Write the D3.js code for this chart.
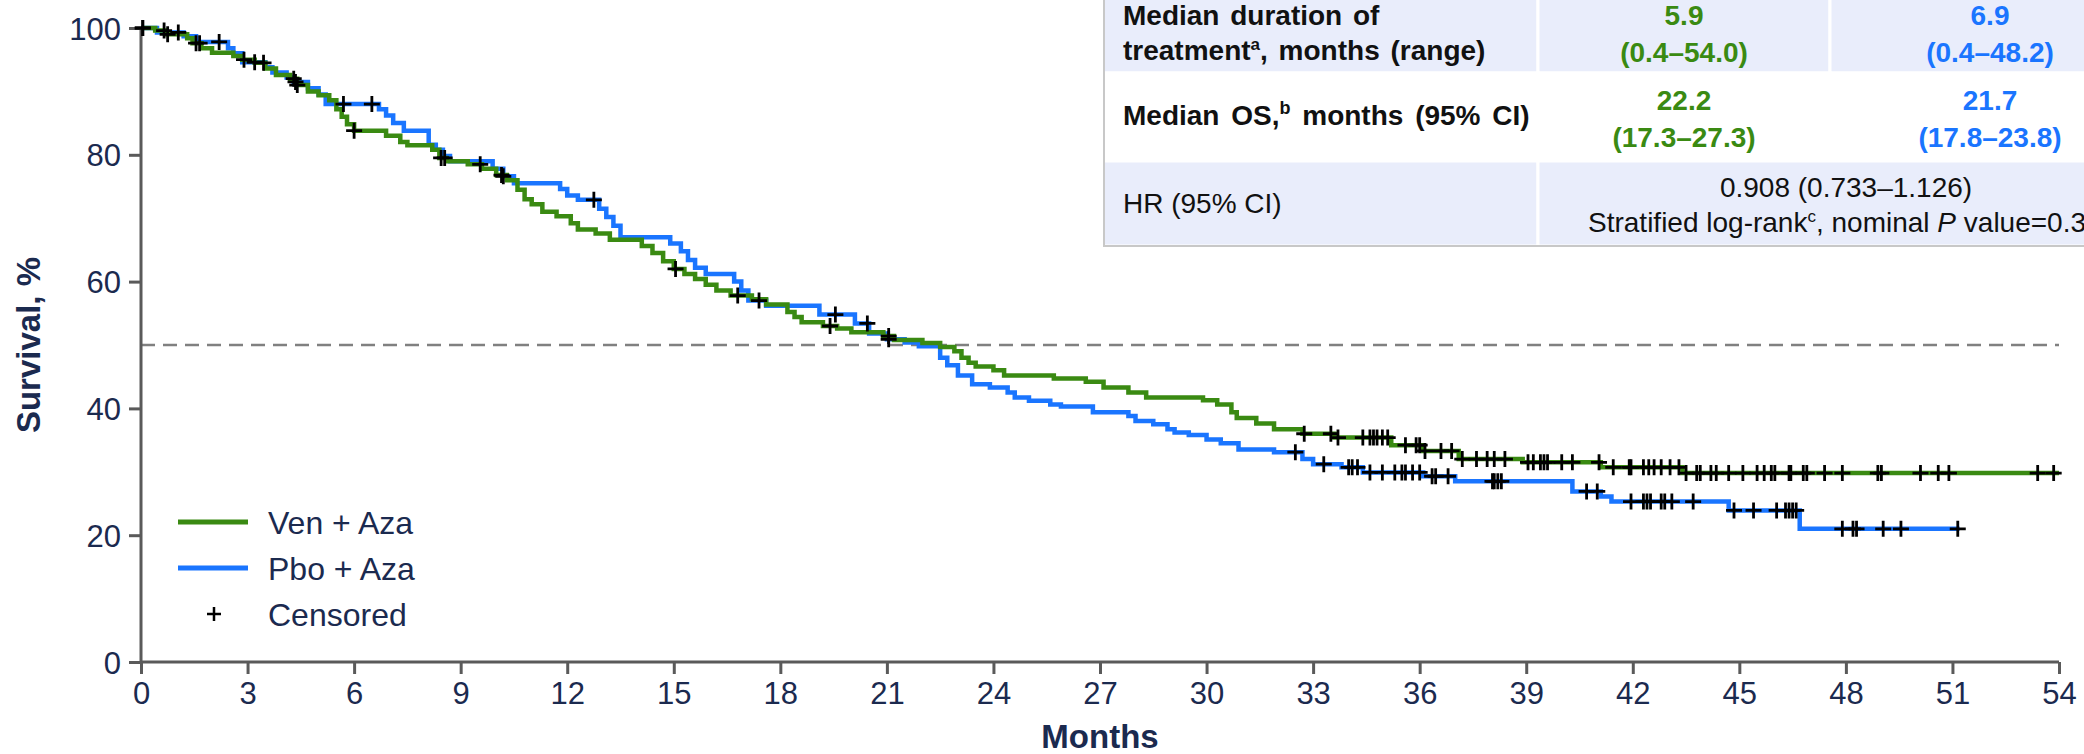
<!DOCTYPE html>
<html><head><meta charset="utf-8">
<script src="https://cdn.jsdelivr.net/npm/d3@7"></script>
<style>body{margin:0;background:#fff;} svg{display:block;}</style>
</head><body><svg id="c" width="2084" height="754"></svg>
<script>
// ---------------- DATA ----------------
const monthTicks = [0,3,6,9,12,15,18,21,24,27,30,33,36,39,42,45,48,51,54];
const survTicks = [0,20,40,60,80,100];
const seriesNames = ["Ven + Aza", "Pbo + Aza"];
const censorLabel = "Censored";

// Ven + Aza step times (months) and survival (%) after each step
const venTimes = [0,0.4,0.7,1.3,1.45,1.7,2.0,2.6,2.85,3.2,3.5,3.8,4.2,4.4,4.7,5.0,5.3,5.5,5.65,5.8,6.0,6.9,7.3,7.5,8.2,8.4,8.6,9.2,9.6,10.0,10.3,10.6,10.8,11.0,11.3,11.7,12.1,12.3,12.8,13.2,14.1,14.4,14.7,15.0,15.3,15.6,15.9,16.2,16.6,17.2,17.6,18.2,18.4,18.6,19.2,19.6,20.0,20.9,21.2,22.0,22.5,22.9,23.1,23.3,23.5,24.0,24.3,25.7,26.6,27.1,27.8,28.3,29.9,30.3,30.7,30.85,31.4,31.9,32.7,33.6,35.2,36.1,37.1,38.9,41.1,43.4];
const venSurv  = [100,99.6,99.0,98.4,97.6,96.8,96.1,95.6,95.0,94.5,93.6,92.6,92.0,91.0,90.0,89.4,88.6,87.2,86.0,84.8,83.8,83.0,82.0,81.5,80.8,79.5,79.0,78.5,77.8,76.8,76.0,74.5,73.0,72.2,71.0,70.3,69.2,68.2,67.6,66.6,65.6,64.5,63.2,62.0,61.2,60.4,59.5,58.6,57.8,57.2,56.4,55.2,54.4,53.6,53.0,52.6,52.0,51.4,50.8,50.3,49.7,49.0,48.0,47.2,46.6,46.0,45.2,44.7,44.2,43.3,42.5,41.7,41.3,40.6,39.4,38.5,37.6,36.7,36.0,35.4,34.2,33.3,32.0,31.5,30.7,29.8];
const venEnd = 54.0;
const venCensor = [0.05,0.65,0.75,1.55,1.65,2.9,3.45,4.3,4.4,6.0,8.45,8.55,9.55,10.15,15.05,16.8,19.4,21.05,32.75,33.5,33.7,34.4,34.6,34.7,34.8,34.95,35.1,35.6,35.9,36.0,36.15,36.6,36.9,37.2,37.6,37.9,38.1,38.4,39.05,39.2,39.4,39.5,39.6,40.0,40.3,41.05,41.45,41.9,41.95,42.3,42.45,42.6,42.8,43.05,43.3,43.5,43.8,43.9,44.2,44.35,44.7,45.1,45.5,45.7,45.9,46.0,46.4,46.45,46.8,46.9,47.4,47.9,48.9,49.0,50.1,50.6,50.9,53.4,53.85];

// Pbo + Aza
const pboTimes = [0,0.45,1.2,1.55,2.45,2.6,2.85,3.5,3.7,4.1,4.3,4.7,5.0,5.2,6.7,6.9,7.1,7.4,8.1,8.3,8.5,8.7,9.9,10.2,10.5,11.8,12.0,12.3,12.9,13.1,13.3,13.5,14.9,15.2,15.4,15.6,15.9,16.7,16.9,17.1,17.6,19.1,20.1,20.5,21.0,21.5,21.9,22.5,22.7,23.0,23.4,23.9,24.4,24.6,25.0,25.6,25.9,26.8,27.8,28.0,28.5,28.9,29.1,29.5,30.0,30.4,30.9,31.9,32.7,33.0,33.8,34.4,36.1,37.0,40.3,41.1,41.4,44.7,46.7];
const pboSurv  = [100,99.3,98.7,97.8,96.8,96.0,94.6,93.8,93.0,92.2,91.5,90.5,89.5,88.0,87.2,86.2,85.0,83.8,81.6,80.8,79.8,79.0,77.8,76.6,75.5,74.6,73.6,72.9,71.5,70.2,68.8,67.0,66.0,64.8,63.4,62.2,61.2,60.0,58.6,57.0,56.2,54.8,53.4,51.8,50.9,50.4,49.8,48.0,46.8,45.2,43.8,43.3,42.5,41.7,41.2,40.6,40.3,39.4,38.8,38.0,37.5,36.7,36.2,35.8,35.1,34.5,33.5,33.1,32.0,31.2,30.7,29.9,29.3,28.5,26.9,26.1,25.3,23.9,21.0];
const pboEnd = 51.2;
const pboCensor = [0.05,1.05,2.2,3.2,4.35,5.7,6.5,10.2,12.75,17.4,19.55,20.45,21.05,32.5,33.3,34.0,34.1,34.25,34.6,34.95,35.3,35.5,35.6,35.8,36.0,36.35,36.45,36.8,38.05,38.1,38.2,38.3,40.7,41.0,41.95,42.3,42.4,42.5,42.8,42.9,43.1,43.7,44.85,45.4,46.05,46.3,46.4,46.5,46.6,47.9,48.2,48.3,49.05,49.55,51.15];

const medianLine = 50;

// table text
const rowLabels = ["Median duration of", "treatment", "a", ", months (range)", "Median OS,", "b", " months (95% CI)", "HR (95% CI)"];
const venStats = ["5.9", "(0.4–54.0)", "22.2", "(17.3–27.3)"];
const pboStats = ["6.9", "(0.4–48.2)", "21.7", "(17.8–23.8)"];
const hrStats = ["0.908 (0.733–1.126)", "Stratified log-rank", "c", ", nominal ", "P", " value=0.3"];

// ---------------- STYLE / LAYOUT ----------------
const GREEN = "#3a8a12", BLUE = "#1a75ff", NAVY = "#1b2a4f", AXIS = "#5a5a5a";
const FONT = "'Liberation Sans', Arial, Helvetica, sans-serif";
const svg = d3.select("#c").style("font-family", FONT);

const x = d3.scaleLinear().domain([0, 54]).range([141, 2059]);
const y = d3.scaleLinear().domain([0, 100]).range([662, 28]);

// median dashed line
svg.append("line")
  .attr("x1", x(0)).attr("x2", x(54))
  .attr("y1", y(medianLine)).attr("y2", y(medianLine))
  .attr("stroke", "#808080").attr("stroke-width", 2.5)
  .attr("stroke-dasharray", "14,8");

// axes
const xAxis = d3.axisBottom(x).tickValues(monthTicks).tickSize(12).tickPadding(8).tickFormat(d3.format("d"));
const yAxis = d3.axisLeft(y).tickValues(survTicks).tickSize(12).tickPadding(8).tickFormat(d3.format("d"));
const gx = svg.append("g").attr("transform", `translate(0,${y(0)})`).call(xAxis);
const gy = svg.append("g").attr("transform", `translate(${x(0)},0)`).call(yAxis);
[gx, gy].forEach(g => {
  g.select(".domain").attr("stroke", AXIS).attr("stroke-width", 3);
  g.selectAll(".tick line").attr("stroke", AXIS).attr("stroke-width", 3);
  g.selectAll(".tick text").attr("fill", NAVY).style("font-size", "31px").style("font-family", FONT);
});
gx.select(".domain").attr("d", `M${x(0)},0H${x(54)}`);
gy.select(".domain").attr("d", `M0,${y(0)}V${y(100)}`);
gy.selectAll(".tick text").attr("dy", "0.36em");

// axis titles
svg.append("text").attr("x", x(27)).attr("y", 748).attr("text-anchor", "middle")
  .attr("fill", NAVY).style("font-size", "33px").style("font-weight", "bold").text("Months");
svg.append("text").attr("transform", `translate(40,${y(50)}) rotate(-90)`).attr("text-anchor", "middle")
  .attr("fill", NAVY).style("font-size", "33px").style("font-weight", "bold").text("Survival, %");

// curves
function pts(times, surv, end) {
  const p = times.map((t, i) => [t, surv[i]]);
  p.push([end, surv[surv.length - 1]]);
  return p;
}
function stepAt(times, surv, t) {
  let v = surv[0];
  for (let i = 0; i < times.length; i++) if (times[i] <= t) v = surv[i];
  return v;
}
const line = d3.line().x(d => x(d[0])).y(d => y(d[1])).curve(d3.curveStepAfter);
svg.append("path").attr("d", line(pts(pboTimes, pboSurv, pboEnd)))
  .attr("fill", "none").attr("stroke", BLUE).attr("stroke-width", 4.5);
svg.append("path").attr("d", line(pts(venTimes, venSurv, venEnd)))
  .attr("fill", "none").attr("stroke", GREEN).attr("stroke-width", 4.5);

function plus(g, cx, cy, s, w) {
  g.append("path").attr("d", `M${cx - s},${cy}H${cx + s}M${cx},${cy - s}V${cy + s}`)
    .attr("stroke", "#000").attr("stroke-width", w).attr("fill", "none");
}
const cg = svg.append("g");
pboCensor.forEach(t => plus(cg, x(t), y(stepAt(pboTimes, pboSurv, t)), 8, 2.8));
venCensor.forEach(t => plus(cg, x(t), y(stepAt(venTimes, venSurv, t)), 8, 2.8));

// legend
const lg = svg.append("g");
[GREEN, BLUE].forEach((c, i) => {
  lg.append("line").attr("x1", 178).attr("x2", 248).attr("y1", 522 + i * 46).attr("y2", 522 + i * 46)
    .attr("stroke", c).attr("stroke-width", 5);
  lg.append("text").attr("x", 268).attr("y", 534 + i * 46).attr("fill", NAVY)
    .style("font-size", "32px").text(seriesNames[i]);
});
plus(lg, 214, 614, 7, 2.5);
lg.append("text").attr("x", 268).attr("y", 626).attr("fill", NAVY).style("font-size", "32px").text(censorLabel);

// table
const BG = "#e9edfb";
const tg = svg.append("g");
const cells = [
  [1103, -5, 1538, 73, BG], [1538, -5, 1830, 73, BG], [1830, -5, 2200, 73, BG],
  [1103, 73, 1538, 161, "#fff"], [1538, 73, 1830, 161, "#fff"], [1830, 73, 2200, 161, "#fff"],
  [1103, 161, 1538, 246, BG], [1538, 161, 2200, 246, BG]
];
cells.forEach(c => tg.append("rect").attr("x", c[0]).attr("y", c[1]).attr("width", c[2] - c[0]).attr("height", c[3] - c[1])
  .attr("fill", c[4]).attr("stroke", "#fff").attr("stroke-width", 3));
tg.append("path").attr("d", "M1104,0V246H2084").attr("fill", "none").attr("stroke", "#c8c8c8").attr("stroke-width", 2);

const TS = "28px";
function t(xp, yp, anchor, fill, bold) {
  return tg.append("text").attr("x", xp).attr("y", yp).attr("text-anchor", anchor).attr("fill", fill)
    .style("font-size", TS).style("font-weight", bold ? "bold" : "normal");
}
t(1123, 25, "start", "#111", true).style("word-spacing", "3px").text(rowLabels[0]);
const r1 = t(1123, 60, "start", "#111", true).style("word-spacing", "3px");
r1.append("tspan").text(rowLabels[1]);
r1.append("tspan").attr("dy", -10).style("font-size", "17px").text(rowLabels[2]);
r1.append("tspan").attr("dy", 10).text(rowLabels[3]);
const r2 = t(1123, 125, "start", "#111", true).style("word-spacing", "4px");
r2.append("tspan").text(rowLabels[4]);
r2.append("tspan").attr("dy", -11).style("font-size", "18px").text(rowLabels[5]);
r2.append("tspan").attr("dy", 11).text(rowLabels[6]);
t(1123, 213, "start", "#111", false).text(rowLabels[7]);

const statY = [25, 62, 110, 147];
venStats.forEach((s, i) => t(1684, statY[i], "middle", GREEN, true).text(s));
pboStats.forEach((s, i) => t(1990, statY[i], "middle", BLUE, true).text(s));
t(1846, 197, "middle", "#111", false).text(hrStats[0]);
const hr = t(1588, 232, "start", "#111", false);
hr.append("tspan").text(hrStats[1]);
hr.append("tspan").attr("dy", -10).style("font-size", "17px").text(hrStats[2]);
hr.append("tspan").attr("dy", 10).text(hrStats[3]);
hr.append("tspan").style("font-style", "italic").text(hrStats[4]);
hr.append("tspan").text(hrStats[5]);
</script>
</body></html>
